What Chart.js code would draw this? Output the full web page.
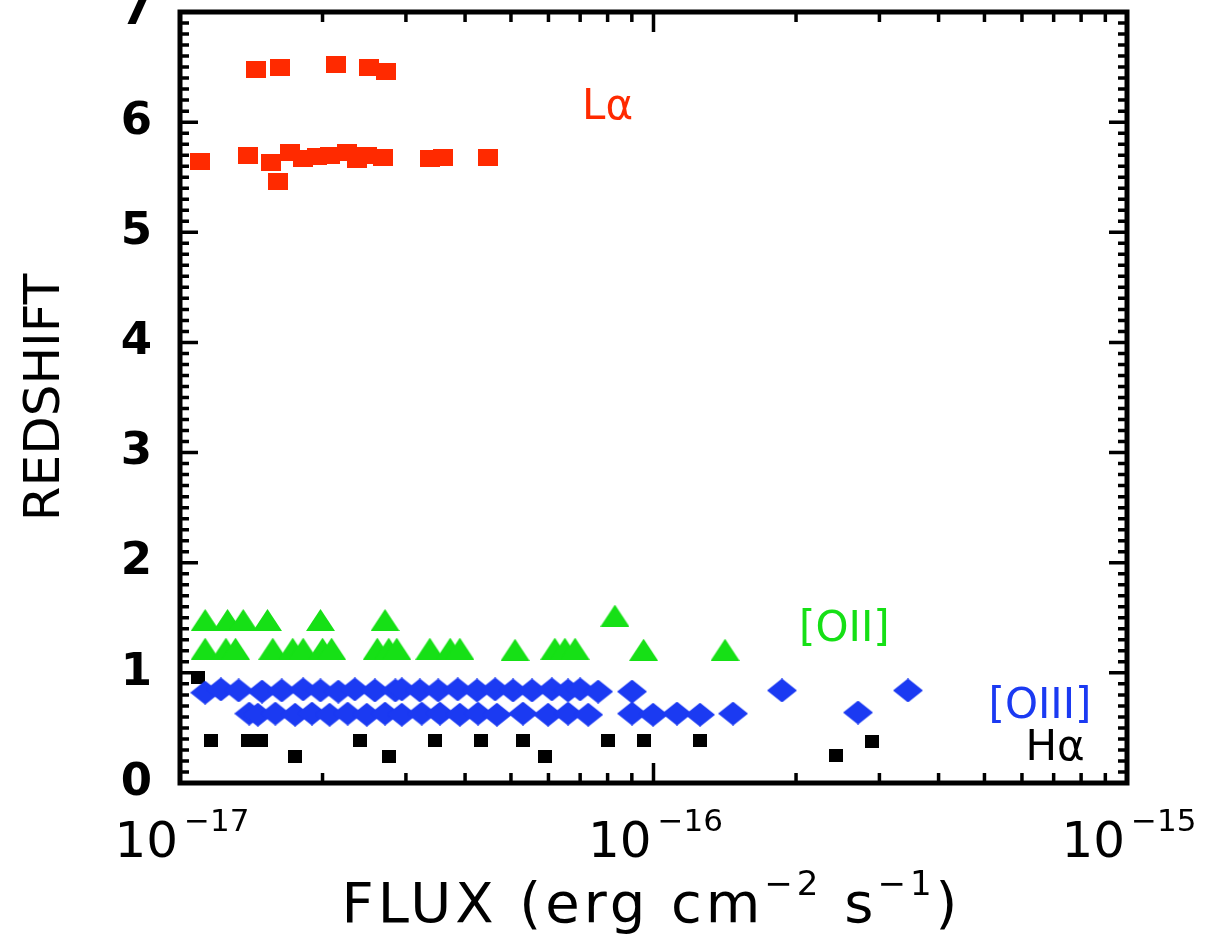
<!DOCTYPE html>
<html>
<head>
<meta charset="utf-8">
<script src="https://cdn.jsdelivr.net/npm/chart.js@4/dist/chart.umd.min.js"></script>
<style>
  body { margin: 0; background: #fff; }
  canvas { display: block; }
</style>
</head>
<body>
<canvas id="zChart" width="1214" height="939"></canvas>
<script>
// Lyman alpha
const lyaFlux = [1.45e-17, 1.63e-17, 2.14e-17, 2.51e-17, 2.72e-17,
                 1.10e-17, 1.39e-17, 1.56e-17, 1.61e-17, 1.71e-17, 1.82e-17, 1.95e-17, 2.07e-17,
                 2.25e-17, 2.37e-17, 2.48e-17, 2.68e-17, 3.37e-17, 3.59e-17, 4.47e-17];
const lyaZ = [6.48, 6.50, 6.52, 6.50, 6.46,
              5.64, 5.70, 5.63, 5.46, 5.72, 5.67, 5.69, 5.70,
              5.72, 5.66, 5.70, 5.68, 5.67, 5.68, 5.68];

// [OII]
const oiiFlux = [1.13e-17, 1.26e-17, 1.36e-17, 1.53e-17, 1.98e-17, 2.71e-17, 8.29e-17,
                 1.13e-17, 1.25e-17, 1.31e-17, 1.57e-17, 1.73e-17, 1.82e-17, 2.00e-17, 2.09e-17,
                 2.61e-17, 2.76e-17, 2.87e-17, 3.37e-17, 3.72e-17, 3.90e-17, 5.10e-17, 6.19e-17,
                 6.50e-17, 6.83e-17, 9.53e-17, 14.16e-17];
const oiiZ = [1.48, 1.48, 1.48, 1.48, 1.48, 1.48, 1.52,
              1.22, 1.22, 1.22, 1.22, 1.22, 1.22, 1.22, 1.22,
              1.22, 1.22, 1.22, 1.22, 1.22, 1.22, 1.21, 1.22,
              1.22, 1.22, 1.21, 1.21];

// [OIII]
const oiiiFlux = [1.13e-17, 1.22e-17, 1.33e-17, 1.49e-17, 1.64e-17, 1.82e-17, 1.98e-17, 2.16e-17,
                  2.34e-17, 2.58e-17, 2.85e-17, 2.94e-17, 3.21e-17, 3.51e-17, 3.86e-17, 4.24e-17,
                  4.63e-17, 5.05e-17, 5.54e-17, 6.10e-17, 6.60e-17, 7.00e-17, 7.64e-17, 9.01e-17,
                  18.68e-17, 34.47e-17,
                  1.40e-17, 1.46e-17, 1.59e-17, 1.75e-17, 1.90e-17, 2.07e-17, 2.26e-17, 2.48e-17,
                  2.71e-17, 2.94e-17, 3.24e-17, 3.54e-17, 3.90e-17, 4.26e-17, 4.67e-17, 5.30e-17,
                  5.99e-17, 6.60e-17, 7.28e-17, 9.01e-17, 9.98e-17, 11.21e-17, 12.54e-17, 14.72e-17,
                  27.04e-17];
const oiiiZ = [0.82, 0.85, 0.84, 0.83, 0.84, 0.85, 0.84, 0.83,
               0.85, 0.84, 0.84, 0.85, 0.84, 0.84, 0.85, 0.84,
               0.85, 0.84, 0.84, 0.85, 0.84, 0.85, 0.83, 0.83,
               0.84, 0.84,
               0.63, 0.62, 0.63, 0.62, 0.63, 0.62, 0.63, 0.62,
               0.63, 0.62, 0.63, 0.63, 0.62, 0.63, 0.62, 0.63,
               0.62, 0.63, 0.62, 0.63, 0.62, 0.63, 0.62, 0.63,
               0.64];

// H alpha
const haFlux = [1.09e-17, 1.16e-17, 1.39e-17, 1.48e-17, 2.40e-17, 3.46e-17, 4.32e-17, 5.30e-17,
                8.02e-17, 9.53e-17, 12.54e-17, 28.94e-17,
                1.75e-17, 2.76e-17, 5.90e-17, 24.29e-17];
const haZ = [0.96, 0.39, 0.39, 0.39, 0.39, 0.39, 0.39, 0.39,
             0.39, 0.39, 0.39, 0.38,
             0.24, 0.24, 0.24, 0.25];

const xTickValues = [1e-17, 1e-16, 1e-15];
const xTickExps = ['\u221217', '\u221216', '\u221215'];
const minorMantissas = [2, 3, 4, 5, 6, 7, 8, 9];

// line names written inside the plot, anchored in data units
const lineNotes = [
  { text: 'L\u03b1', flux: 8.0e-17, z: 6.13, color: '#ff2a00' },
  { text: '[OII]', flux: 25.3e-17, z: 1.39, color: '#16e016' },
  { text: '[OIII]', flux: 65.5e-17, z: 0.69, color: '#1b3af2' },
  { text: 'H\u03b1', flux: 70.5e-17, z: 0.31, color: '#000000' }
];

function marker(shape, w, h, color) {
  const c = document.createElement('canvas');
  c.width = w; c.height = h;
  const g = c.getContext('2d');
  g.fillStyle = color;
  g.beginPath();
  if (shape === 'diamond') {
    g.moveTo(w / 2, 0); g.lineTo(w, h / 2); g.lineTo(w / 2, h); g.lineTo(0, h / 2);
  } else if (shape === 'triangle') {
    g.moveTo(w / 2, 0); g.lineTo(w, h); g.lineTo(0, h);
  } else {
    g.rect(0, 0, w, h);
  }
  g.closePath();
  g.fill();
  return c;
}

const toPoints = (xs, ys) => xs.map((x, i) => ({ x: x, y: ys[i] }));

const FONT = '"DejaVu Sans", sans-serif';

function drawSupText(ctx, parts, cx, baseline, size, supSize, raise, gap) {
  // parts: [text, isSuperscript]
  let total = 0;
  const widths = parts.map(p => {
    ctx.font = (p[1] ? supSize : size) + 'px ' + FONT;
    const w = ctx.measureText(p[0]).width + (p[1] ? gap : 0);
    total += w;
    return w;
  });
  let x = cx - total / 2;
  parts.forEach((p, i) => {
    ctx.font = (p[1] ? supSize : size) + 'px ' + FONT;
    ctx.fillText(p[0], p[1] ? x + gap : x, p[1] ? baseline - raise : baseline);
    x += widths[i];
  });
}

const frameTicks = {
  id: 'frameTicks',
  afterDraw(chart) {
    const { ctx, chartArea: a, scales: { x, y } } = chart;
    ctx.save();
    ctx.strokeStyle = '#000';
    ctx.lineWidth = 3.5;
    ctx.beginPath();
    // y: minor every 0.1, major every 1
    for (let i = 0; i <= 70; i++) {
      const py = y.getPixelForValue(i / 10);
      const len = i % 10 === 0 ? 18 : 9;
      ctx.moveTo(a.left, py); ctx.lineTo(a.left + len, py);
      ctx.moveTo(a.right, py); ctx.lineTo(a.right - len, py);
    }
    // x: decades + minor 2..9
    xTickValues.forEach((v, k) => {
      const px = x.getPixelForValue(v);
      ctx.moveTo(px, a.bottom); ctx.lineTo(px, a.bottom - 20);
      ctx.moveTo(px, a.top); ctx.lineTo(px, a.top + 20);
      if (k < xTickValues.length - 1) {
        minorMantissas.forEach(m => {
          const mx = x.getPixelForValue(m * v);
          ctx.moveTo(mx, a.bottom); ctx.lineTo(mx, a.bottom - 10);
          ctx.moveTo(mx, a.top); ctx.lineTo(mx, a.top + 10);
        });
      }
    });
    ctx.stroke();
    ctx.lineWidth = 5;
    ctx.strokeRect(a.left, a.top, a.right - a.left, a.bottom - a.top);

    // x tick labels 10^n
    ctx.fillStyle = '#000';
    ctx.textAlign = 'left';
    ctx.textBaseline = 'alphabetic';
    xTickValues.forEach((v, k) => {
      drawSupText(ctx, [['10', false], [xTickExps[k], true]],
        x.getPixelForValue(v) + 2, 857, 50, 31, 26, 6);
    });

    // x title
    ctx.letterSpacing = '4px';
    drawSupText(ctx, [['FLUX (erg cm', false], ['\u22122', true], [' s', false], ['\u22121', true], [')', false]],
      (a.left + a.right) / 2 - 2, 922, 56, 34, 27, 0);
    ctx.letterSpacing = '0px';

    // line names
    ctx.textAlign = 'center';
    ctx.textBaseline = 'middle';
    ctx.font = '42px ' + FONT;
    lineNotes.forEach(n => {
      ctx.fillStyle = n.color;
      ctx.fillText(n.text, x.getPixelForValue(n.flux), y.getPixelForValue(n.z));
    });
    ctx.restore();
  }
};

new Chart(document.getElementById('zChart'), {
  type: 'scatter',
  data: {
    datasets: [
      { label: '[OIII]', data: toPoints(oiiiFlux, oiiiZ), pointStyle: marker('diamond', 30, 24, '#1b3af2') },
      { label: 'Halpha', data: toPoints(haFlux, haZ), pointStyle: marker('square', 14, 13, '#000000') },
      { label: '[OII]', data: toPoints(oiiFlux, oiiZ), pointStyle: marker('triangle', 29, 22, '#16e016') },
      { label: 'Lyalpha', data: toPoints(lyaFlux, lyaZ), pointStyle: marker('square', 20, 17, '#ff2a00') }
    ]
  },
  options: {
    responsive: false,
    animation: false,
    layout: { padding: { top: 12, right: 87, left: 0, bottom: 0 } },
    plugins: { legend: { display: false }, tooltip: { enabled: false } },
    scales: {
      x: {
        type: 'logarithmic',
        min: 1e-17,
        max: 1e-15,
        grid: { display: false },
        border: { display: false },
        ticks: { display: false },
        afterFit: s => { s.height = 156; s.paddingLeft = 0; s.paddingRight = 0; }
      },
      y: {
        min: 0,
        max: 7,
        grid: { display: false },
        border: { display: false },
        ticks: {
          stepSize: 1,
          padding: 20,
          color: '#000',
          font: { family: 'DejaVu Sans', size: 45, weight: 'bold' }
        },
        title: {
          display: true,
          text: 'REDSHIFT',
          color: '#000',
          font: { family: 'DejaVu Sans', size: 50 },
          padding: { top: 16, bottom: 0 }
        },
        afterFit: s => { s.width = 180; s.paddingTop = 0; s.paddingBottom = 0; }
      }
    }
  },
  plugins: [frameTicks]
});
</script>
</body>
</html>
